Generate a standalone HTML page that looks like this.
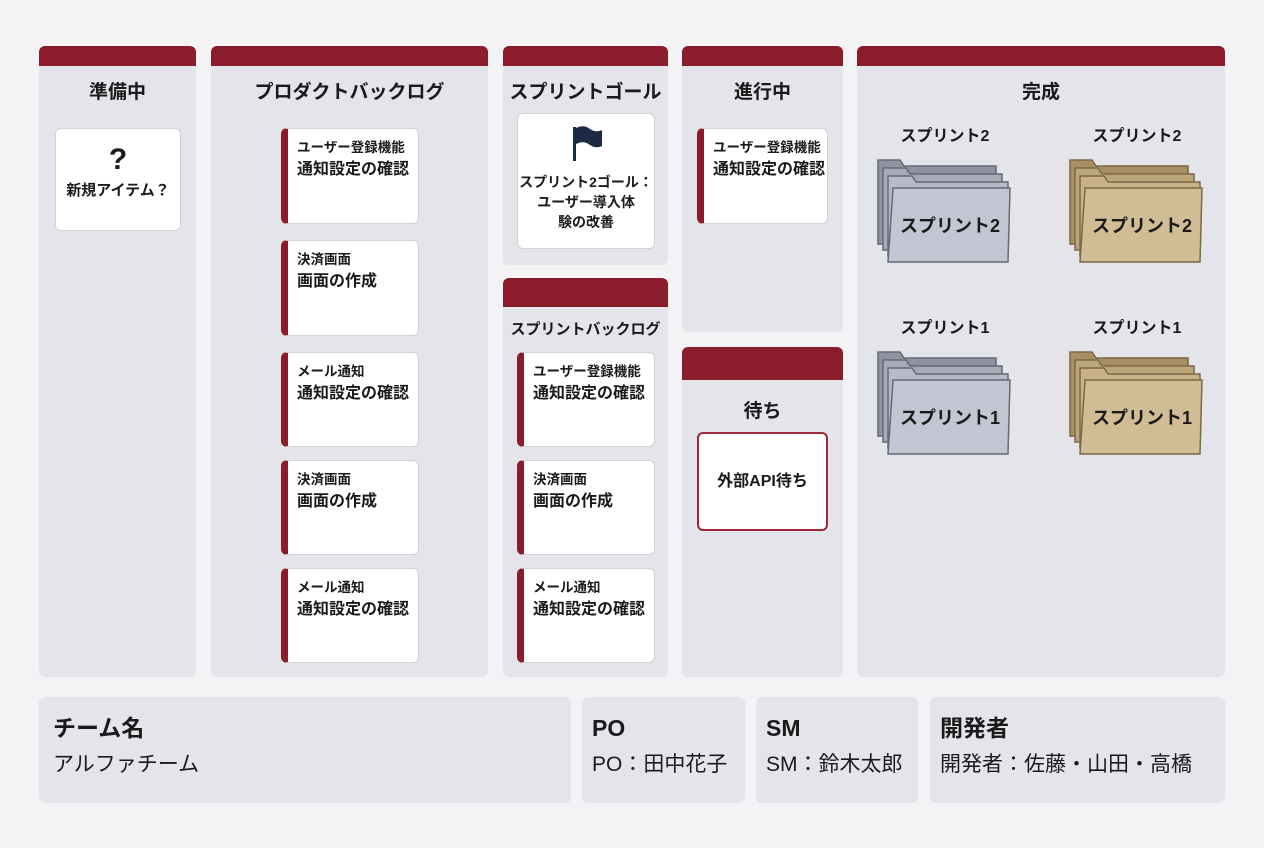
<!DOCTYPE html>
<html><head><meta charset="utf-8"><style>
body{margin:0;width:1264px;height:848px;background:#f3f3f5;font-family:"Liberation Sans","Noto Sans CJK JP",sans-serif;color:#1a1a1a;position:relative;overflow:hidden}
.col{position:absolute;background:#e3e5ea;border-radius:6px;overflow:hidden}
.col .h{height:20px;background:#8a1c2c}
.t{position:absolute;left:0;right:0;text-align:center;font-weight:bold;font-size:19px}
.card{position:absolute;background:#fff;border:1px solid #cfd2d8;border-radius:6px;box-sizing:border-box;font-weight:bold}
.ls{border-left:7px solid #8a1c2c;padding:10px 0 0 9px}
.ls .a{font-size:13.5px;line-height:18px}
.ls .b{font-size:16px;line-height:26px}
.bot{position:absolute;top:697px;height:106px;background:#e3e5ea;border-radius:6px;box-sizing:border-box;padding:14px 0 0 14px}
.bot .x{font-weight:bold;font-size:23px;line-height:34px}
.bot .y{font-size:21px;line-height:40px}
.fl{position:absolute;font-weight:bold;font-size:16px;text-align:center;width:140px}
svg{position:absolute}
</style></head><body>
<div class="col" style="left:39px;top:46px;width:157px;height:631px"><div class="h"></div></div>
<div class="t" style="left:39px;width:157px;right:auto;top:77px">準備中</div>
<div class="card" style="left:55px;top:128px;width:126px;height:103px;text-align:center"><div style="font-size:30px;margin-top:16px;line-height:30px">?</div><div style="font-size:15px;margin-top:4px">新規アイテム？</div></div>

<div class="col" style="left:211px;top:46px;width:277px;height:631px"><div class="h"></div></div>
<div class="t" style="left:211px;width:277px;right:auto;top:77px">プロダクトバックログ</div>
<div class="card ls" style="left:281px;top:128px;width:138px;height:96px"><div class="a">ユーザー登録機能</div><div class="b">通知設定の確認</div></div>
<div class="card ls" style="left:281px;top:240px;width:138px;height:96px"><div class="a">決済画面</div><div class="b">画面の作成</div></div>
<div class="card ls" style="left:281px;top:352px;width:138px;height:95px"><div class="a">メール通知</div><div class="b">通知設定の確認</div></div>
<div class="card ls" style="left:281px;top:460px;width:138px;height:95px"><div class="a">決済画面</div><div class="b">画面の作成</div></div>
<div class="card ls" style="left:281px;top:568px;width:138px;height:95px"><div class="a">メール通知</div><div class="b">通知設定の確認</div></div>

<div class="col" style="left:503px;top:46px;width:165px;height:219px"><div class="h"></div></div>
<div class="t" style="left:503px;width:165px;right:auto;top:77px">スプリントゴール</div>
<div class="card" style="left:517px;top:113px;width:138px;height:136px;text-align:center;font-size:14px;line-height:20px">
<svg style="left:52px;top:10px" width="34" height="40"><rect x="3" y="3" width="3" height="34" fill="#1c2a44"/><path d="M6 4 Q14 0 20 5 Q26 9 32 6 L32 22 Q26 25 20 21 Q14 16 6 20Z" fill="#1c2a44"/></svg>
<div style="margin-top:58px">スプリント2ゴール：<br>ユーザー導入体<br>験の改善</div></div>

<div class="col" style="left:503px;top:278px;width:165px;height:399px"><div class="h" style="height:29px"></div></div>
<div class="t" style="left:503px;width:165px;right:auto;top:318px;font-size:15px">スプリントバックログ</div>
<div class="card ls" style="left:517px;top:352px;width:138px;height:95px"><div class="a">ユーザー登録機能</div><div class="b">通知設定の確認</div></div>
<div class="card ls" style="left:517px;top:460px;width:138px;height:95px"><div class="a">決済画面</div><div class="b">画面の作成</div></div>
<div class="card ls" style="left:517px;top:568px;width:138px;height:95px"><div class="a">メール通知</div><div class="b">通知設定の確認</div></div>

<div class="col" style="left:682px;top:46px;width:161px;height:286px"><div class="h"></div></div>
<div class="t" style="left:682px;width:161px;right:auto;top:77px">進行中</div>
<div class="card ls" style="left:697px;top:128px;width:131px;height:96px"><div class="a">ユーザー登録機能</div><div class="b">通知設定の確認</div></div>

<div class="col" style="left:682px;top:347px;width:161px;height:330px"><div class="h" style="height:33px"></div></div>
<div class="t" style="left:682px;width:161px;right:auto;top:396px">待ち</div>
<div class="card" style="left:697px;top:432px;width:131px;height:99px;border:2px solid #9a2a38;text-align:center;font-size:16px;line-height:95px">外部API待ち</div>

<div class="col" style="left:857px;top:46px;width:368px;height:631px"><div class="h"></div></div>
<div class="t" style="left:857px;width:368px;right:auto;top:77px">完成</div>

<div class="fl" style="left:875px;top:122px">スプリント2</div>
<div class="fl" style="left:1067px;top:122px">スプリント2</div>
<div class="fl" style="left:875px;top:314px">スプリント1</div>
<div class="fl" style="left:1067px;top:314px">スプリント1</div>

<svg width="0" height="0"><defs>
<g id="fg"><path d="M2 6 L24 6 L28 12 L120 12 L120 90 L2 90Z" fill="#8f939f" stroke="#666a75" stroke-width="1.5"/><path d="M7 14 L30 14 L34 20 L126 20 L126 96 L7 96Z" fill="#a6abb8" stroke="#666a75" stroke-width="1.5"/><path d="M12 22 L36 22 L40 28 L132 28 L132 102 L12 102Z" fill="#b6bbc8" stroke="#666a75" stroke-width="1.5"/><path d="M17 34 L134 34 L132 108 L12 108Z" fill="#c2c6d2" stroke="#666a75" stroke-width="1.5"/></g>
<g id="ft"><path d="M2 6 L24 6 L28 12 L120 12 L120 90 L2 90Z" fill="#a88f63" stroke="#7a6848" stroke-width="1.5"/><path d="M7 14 L30 14 L34 20 L126 20 L126 96 L7 96Z" fill="#bda57a" stroke="#7a6848" stroke-width="1.5"/><path d="M12 22 L36 22 L40 28 L132 28 L132 102 L12 102Z" fill="#c9b289" stroke="#7a6848" stroke-width="1.5"/><path d="M17 34 L134 34 L132 108 L12 108Z" fill="#d1bd95" stroke="#7a6848" stroke-width="1.5"/></g>
</defs></svg>
<svg style="left:876px;top:154px" width="140" height="112"><use href="#fg"/><text x="74" y="78" text-anchor="middle" font-size="18" font-weight="bold" font-family="Liberation Sans,Noto Sans CJK JP,sans-serif" fill="#1a1a1a">スプリント2</text></svg>
<svg style="left:1068px;top:154px" width="140" height="112"><use href="#ft"/><text x="74" y="78" text-anchor="middle" font-size="18" font-weight="bold" font-family="Liberation Sans,Noto Sans CJK JP,sans-serif" fill="#1a1a1a">スプリント2</text></svg>
<svg style="left:876px;top:346px" width="140" height="112"><use href="#fg"/><text x="74" y="78" text-anchor="middle" font-size="18" font-weight="bold" font-family="Liberation Sans,Noto Sans CJK JP,sans-serif" fill="#1a1a1a">スプリント1</text></svg>
<svg style="left:1068px;top:346px" width="140" height="112"><use href="#ft"/><text x="74" y="78" text-anchor="middle" font-size="18" font-weight="bold" font-family="Liberation Sans,Noto Sans CJK JP,sans-serif" fill="#1a1a1a">スプリント1</text></svg>

<div class="bot" style="left:39px;width:532px"><div class="x">チーム名</div><div class="y">アルファチーム</div></div>
<div class="bot" style="left:582px;width:163px;padding-left:10px"><div class="x">PO</div><div class="y">PO：田中花子</div></div>
<div class="bot" style="left:756px;width:162px;padding-left:10px"><div class="x">SM</div><div class="y">SM：鈴木太郎</div></div>
<div class="bot" style="left:930px;width:295px;padding-left:10px"><div class="x">開発者</div><div class="y">開発者：佐藤・山田・高橋</div></div>
</body></html>
